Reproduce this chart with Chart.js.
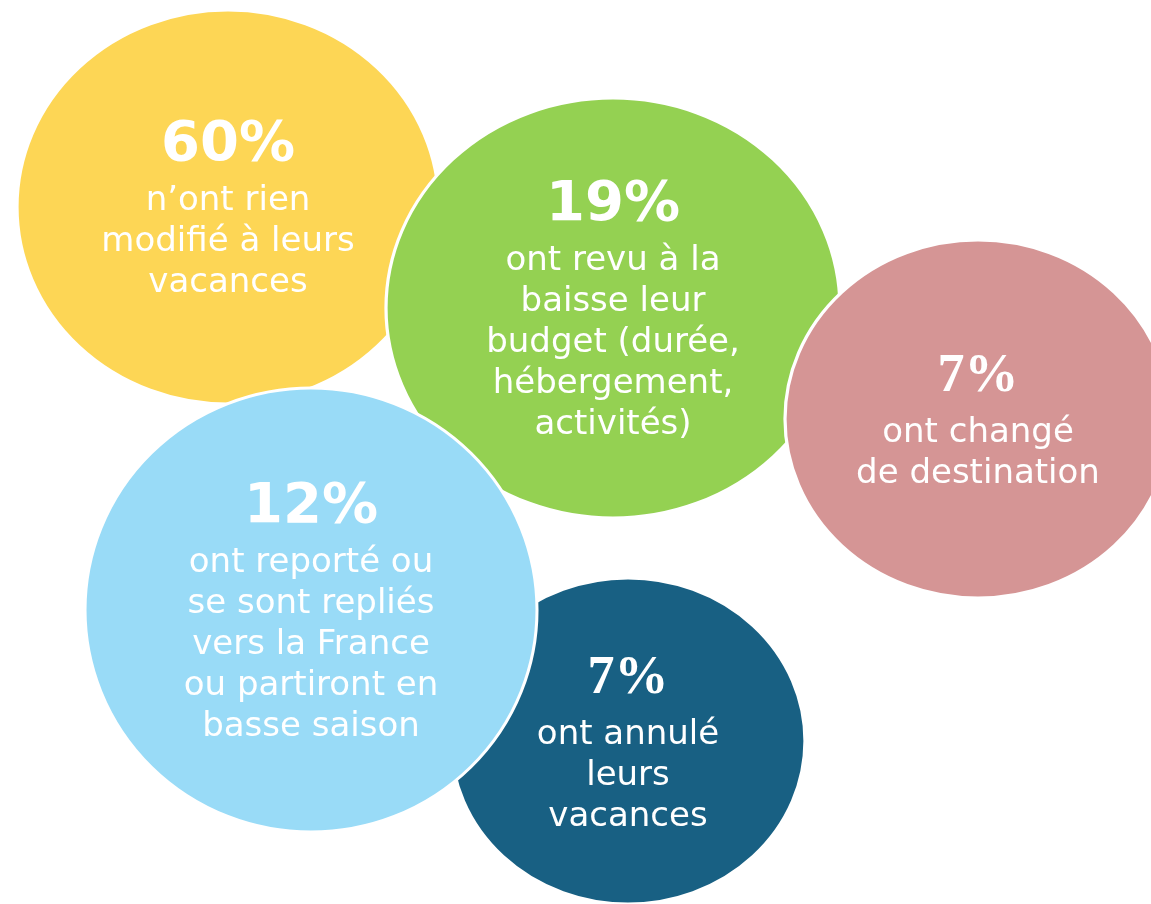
<!DOCTYPE html>
<html>
<head>
<meta charset="utf-8">
<script src="https://cdn.jsdelivr.net/npm/chart.js@4"></script>
<style>
    html, body { margin: 0; padding: 0; background: #ffffff; }
    canvas { display: block; }
</style>
</head>
<body>
<canvas id="bubbleChart" width="1151" height="904"></canvas>
<script>
// Données : parts des répondants et libellés (dans l'ordre de lecture)
const shares = [60, 19, 7, 12, 7];
const shareLabels = ['60%', '19%', '7%', '12%', '7%'];
const labelLines = [
    ['n’ont rien', 'modifié à leurs', 'vacances'],
    ['ont revu à la', 'baisse leur', 'budget (durée,', 'hébergement,', 'activités)'],
    ['ont changé', 'de destination'],
    ['ont reporté ou', 'se sont repliés', 'vers la France', 'ou partiront en', 'basse saison'],
    ['ont annulé', 'leurs', 'vacances']
];

// Mise en page des bulles (centre, demi-largeur et demi-hauteur en pixels)
const bubbleX = [228, 613, 978, 311, 628];
const bubbleY = [207, 308, 419, 610, 741];
const bubbleRx = [211, 227, 193, 226, 177];
const bubbleRy = [197, 210, 179, 222, 163];
// ordre de dessin : la valeur la plus haute est dessinée en premier
const drawOrder = [5, 4, 3, 1, 2];
const colors = ['#FDD655', '#94D152', '#D59595', '#99DBF7', '#186083'];
const percentFonts = ['800 56px "DejaVu Sans"', '800 56px "DejaVu Sans"', 'bold 54px "Liberation Serif"',
    '800 56px "DejaVu Sans"', 'bold 54px "Liberation Serif"'];

const datasets = shares.map((v, i) => ({
    label: shareLabels[i],
    data: [{ x: bubbleX[i], y: bubbleY[i], r: bubbleRy[i] }],
    backgroundColor: colors[i],
    borderColor: '#ffffff',
    borderWidth: 3,
    clip: false,
    order: drawOrder[i]
}));

// Étirement horizontal de chaque bulle autour de son centre (bulles ovales)
const ovalBubbles = {
    id: 'ovalBubbles',
    beforeDatasetDraw(chart, args) {
        const i = args.index;
        const pt = chart.getDatasetMeta(i).data[0];
        const ctx = chart.ctx;
        ctx.save();
        ctx.translate(pt.x, pt.y);
        ctx.scale(bubbleRx[i] / bubbleRy[i], 1);
        ctx.translate(-pt.x, -pt.y);
    },
    afterDatasetDraw(chart) {
        chart.ctx.restore();
    }
};

// Texte au centre de chaque bulle
const bubbleText = {
    id: 'bubbleText',
    afterDatasetsDraw(chart) {
        const ctx = chart.ctx;
        ctx.save();
        ctx.fillStyle = '#ffffff';
        ctx.textAlign = 'center';
        ctx.textBaseline = 'middle';
        shares.forEach((v, i) => {
            const pt = chart.getDatasetMeta(i).data[0];
            const lines = labelLines[i];
            const gap = 56, lh = 41;
            const top = pt.y + 7 - (gap + lh * (lines.length - 1)) / 2;
            ctx.font = percentFonts[i];
            ctx.fillText(shareLabels[i], pt.x, top);
            ctx.font = '400 34px "DejaVu Sans"';
            lines.forEach((line, k) => {
                ctx.fillText(line, pt.x, top + gap + lh * k);
            });
        });
        ctx.restore();
    }
};

document.addEventListener('DOMContentLoaded', () => {
    const ctx = document.getElementById('bubbleChart').getContext('2d');
    new Chart(ctx, {
        type: 'bubble',
        data: { datasets: datasets },
        options: {
            responsive: false,
            animation: false,
            events: [],
            layout: { padding: 0, autoPadding: false },
            scales: {
                x: { type: 'linear', min: 0, max: 1151, display: false },
                y: { type: 'linear', min: 0, max: 904, reverse: true, display: false }
            },
            plugins: {
                legend: { display: false },
                tooltip: { enabled: false }
            }
        },
        plugins: [ovalBubbles, bubbleText]
    });
});
</script>
</body>
</html>
